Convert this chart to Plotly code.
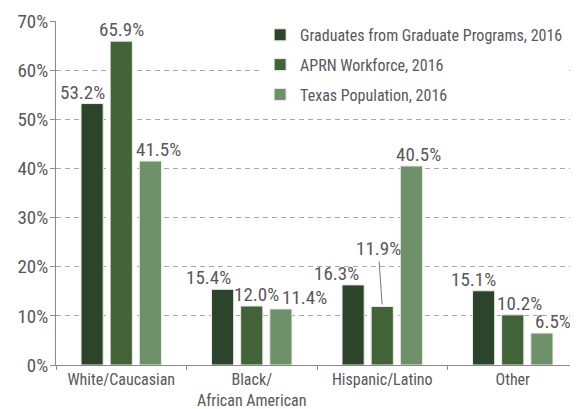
import plotly.graph_objects as go

# categories and series (percent)
categories = ["White/Caucasian", "Black/<br>African American", "Hispanic/Latino", "Other"]
graduates = [53.2, 15.4, 16.3, 15.1]
workforce = [65.9, 12.0, 11.9, 10.2]
population = [41.5, 11.4, 40.5, 6.5]

series = [
    ("Graduates from Graduate Programs, 2016", graduates, "#2c4429"),
    ("APRN Workforce, 2016", workforce, "#426237"),
    ("Texas Population, 2016", population, "#6f916a"),
]

# small sideways nudges (px) of the value labels so neighbours don't collide
nudges = [
    [-10, -14, -17, -10],
    [0, 5, 0, 7],
    [8, 24, 7, 11],
]

FONT = "Roboto Condensed, sans-serif"
GREY = "#58585a"
NUM = 19  # numbers look bigger than words in the original font
BARGAP = 0.33

fig = go.Figure()
for name, vals, color in series:
    fig.add_trace(go.Bar(
        name=name, x=categories, y=vals, legendgroup=name,
        marker=dict(color=color, line=dict(color="#e8ede6", width=1)),
    ))

# value labels placed on the group slots (category index +- one slot)
slot = (1 - BARGAP) / len(series)
for k, (name, vals, color) in enumerate(series):
    for i, v in enumerate(vals):
        if k == 1 and i == 2:
            continue  # 11.9% gets a leader line below
        fig.add_annotation(
            x=i + (k - 1) * slot, y=v, text=f"{v:.1f}%",
            showarrow=False, yanchor="bottom", xshift=nudges[k][i], yshift=-2,
            font=dict(size=NUM, color=GREY, family=FONT),
        )

# 11.9% label lifted with a leader line
fig.add_annotation(
    x=categories[2], y=workforce[2], text=f"{workforce[2]:.1f}%",
    showarrow=True, arrowhead=0, arrowwidth=1, arrowcolor="#777",
    ax=-4, ay=-58, standoff=2,
    font=dict(size=NUM, color=GREY, family=FONT),
)

# page body has an 8px margin, so the figure is 8px smaller than the window
fig.update_layout(
    width=570, height=401,
    margin=dict(l=48, r=0, t=13, b=44),
    paper_bgcolor="white", plot_bgcolor="white",
    barmode="group", bargap=BARGAP, bargroupgap=0.24,
    font=dict(family=FONT, color=GREY, size=16),
    showlegend=True,
    legend=dict(
        x=0.391, y=1.009, xanchor="left", yanchor="top",
        bgcolor="white", font=dict(size=16, color=GREY, family=FONT),
        itemwidth=30, tracegroupgap=6,
    ),
)
fig.update_yaxes(
    range=[0, 70], dtick=10, ticksuffix="%", automargin=False,
    showgrid=True, gridcolor="#a8a8a8", griddash="5px,4px", gridwidth=1,
    showline=True, linecolor="#8a8a8a", linewidth=1,
    ticks="outside", ticklen=5, tickcolor="#8a8a8a", ticklabelstandoff=-2,
    zeroline=False, tickfont=dict(size=NUM, color=GREY),
)
fig.update_xaxes(
    showline=True, linecolor="#8a8a8a", linewidth=1, automargin=False,
    ticks="outside", tickson="boundaries", ticklen=4, tickcolor="#8a8a8a",
    ticklabelstandoff=0, tickfont=dict(size=16, color=GREY),
)

fig.write_html("out.html")
